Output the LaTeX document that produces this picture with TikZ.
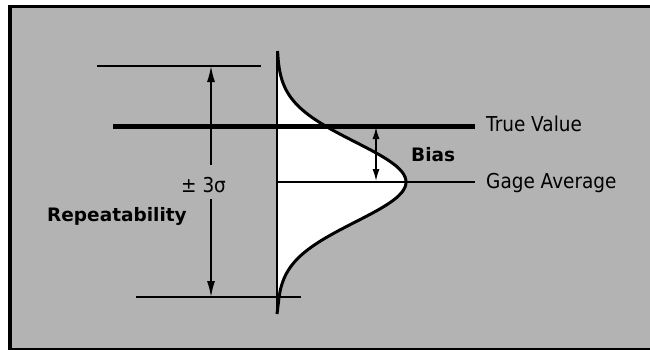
\documentclass[tikz,border=0pt]{standalone}
\usepackage{fontspec}
\setmainfont{DejaVu Sans}
\newfontfamily\condfont[FakeStretch=0.9]{DejaVu Sans}
\usetikzlibrary{arrows.meta}
\definecolor{bgray}{RGB}{179,179,179}
\begin{document}
\begin{tikzpicture}[x=1pt,y=-1pt,
  thinline/.style={line width=1.5pt},
  thickline/.style={line width=5pt},
  curveline/.style={line width=3pt, line join=round},
  dimarrow/.style={line width=1.5pt},
  lbl/.style={anchor=base west, inner sep=0pt, font=\condfont\fontsize{20.5}{22}\selectfont},
  blbl/.style={anchor=base west, inner sep=0pt, font=\fontsize{18.5}{20}\selectfont\bfseries}]
\useasboundingbox (0,0) rectangle (650,349);
\clip (0,0) rectangle (650,349);
\fill[white] (0,0) rectangle (650,349);
\draw[line width=3.4pt, fill=bgray] (10,6.7) rectangle (670,349.4);

% coordinates
\coordinate (axtop) at (277,51);
\coordinate (axbot) at (277,314);
\coordinate (curbot) at (277,297);
\coordinate (topL) at (97,66);
\coordinate (topR) at (261,66);
\coordinate (tvL) at (113,126.5);
\coordinate (tvR) at (475,126.5);
\coordinate (gaL) at (277,182);
\coordinate (gaR) at (475,182);
\coordinate (botL) at (136,297);
\coordinate (botR) at (301,297);
\coordinate (rTop) at (211,66);
\coordinate (rUp) at (211,165);
\coordinate (rDn) at (211,199);
\coordinate (rBot) at (211,297);
\coordinate (bTop) at (376,127);
\coordinate (bBot) at (376,181);

% distribution fill
\fill[white] (axtop) -- plot[domain=51:297, samples=120, variable=\t] ({277+129*exp(-0.5*((\t-182)/40)^2)},{\t}) -- (curbot) -- cycle;

% lines
\draw[thinline] (topL) -- (topR);
\draw[thinline] (botL) -- (botR);
\draw[thinline] (gaL) -- (gaR);
\draw[line width=2pt] (axtop) -- (axbot);
\draw[thickline] (tvL) -- (tvR);
\draw[curveline] plot[domain=51:297, samples=120, variable=\t] ({277+129*exp(-0.5*((\t-182)/40)^2)},{\t}) -- (axbot);

% arrows
\draw[dimarrow, -{Latex[length=16pt,width=8pt]}] (rUp) -- (rTop);
\draw[dimarrow, -{Latex[length=16pt,width=8pt]}] (rDn) -- (rBot);
\draw[dimarrow, {Latex[length=12pt,width=7pt]}-{Latex[length=12pt,width=7pt]}] (bTop) -- (bBot);

% labels
\node[lbl] (tv) at (486,131.5) {True Value};
\node[lbl] (ga) at (486,188) {Gage Average};
\node[blbl] (bias) at (411,161) {Bias};
\node[blbl] (rep) at (47,221) {Repeatability};
\node[lbl] (pm) at (181,192) {± 3σ};
\end{tikzpicture}
\end{document}
